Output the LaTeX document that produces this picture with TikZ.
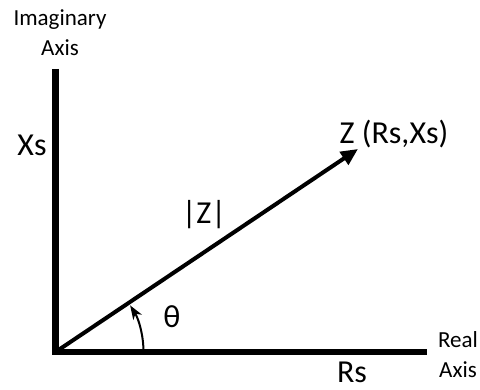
\documentclass[tikz,border=0pt]{standalone}
\usepackage{fontspec}
\setmainfont{Carlito}
\usepackage{tikz}
\usetikzlibrary{arrows.meta,positioning}

\begin{document}
\begin{tikzpicture}[x=1pt,y=1pt,
  axis/.style={draw=black,line width=6.5pt,line join=miter},
  phasor/.style={draw=black,line width=4pt,-{Triangle[length=17pt,width=15pt]}},
  angle/.style={draw=black,line width=2pt,-{Stealth[length=14pt,width=10pt,inset=4pt]}},
  small/.style={font=\fontsize{23}{30}\selectfont,align=center},
  big/.style={font=\fontsize{32}{36}\selectfont}
]
 \path[use as bounding box] (0,0) rectangle (480,390);

 \coordinate (O) at (55.5,38);
 \coordinate (ytop) at (55.5,321);
 \coordinate (xend) at (427,38);
 \coordinate (Z) at (358,241);

 % axes and impedance vector
 \draw[axis] (ytop) -- (O) -- (xend);
 \draw[phasor] (O) -- (Z);
 \draw[angle] ([shift={(0:88)}]O) arc[start angle=0,end angle=32,radius=88];

 \node[small] (imlab) at (60,357) {Imaginary\\Axis};
 \node[small] (relab) at (458,35) {Real\\Axis};
 \node[big] (xs) at (32,245) {Xs};
 \node[big,anchor=base] (rs) at (352,7) {Rs};
 \node[big] (zlab) at (394,256) {Z (Rs,Xs)};
 \node[big] (mag) at (204,175) {|Z|};
 \node[big] (theta) at (172,73) {θ};
\end{tikzpicture}
\end{document}
